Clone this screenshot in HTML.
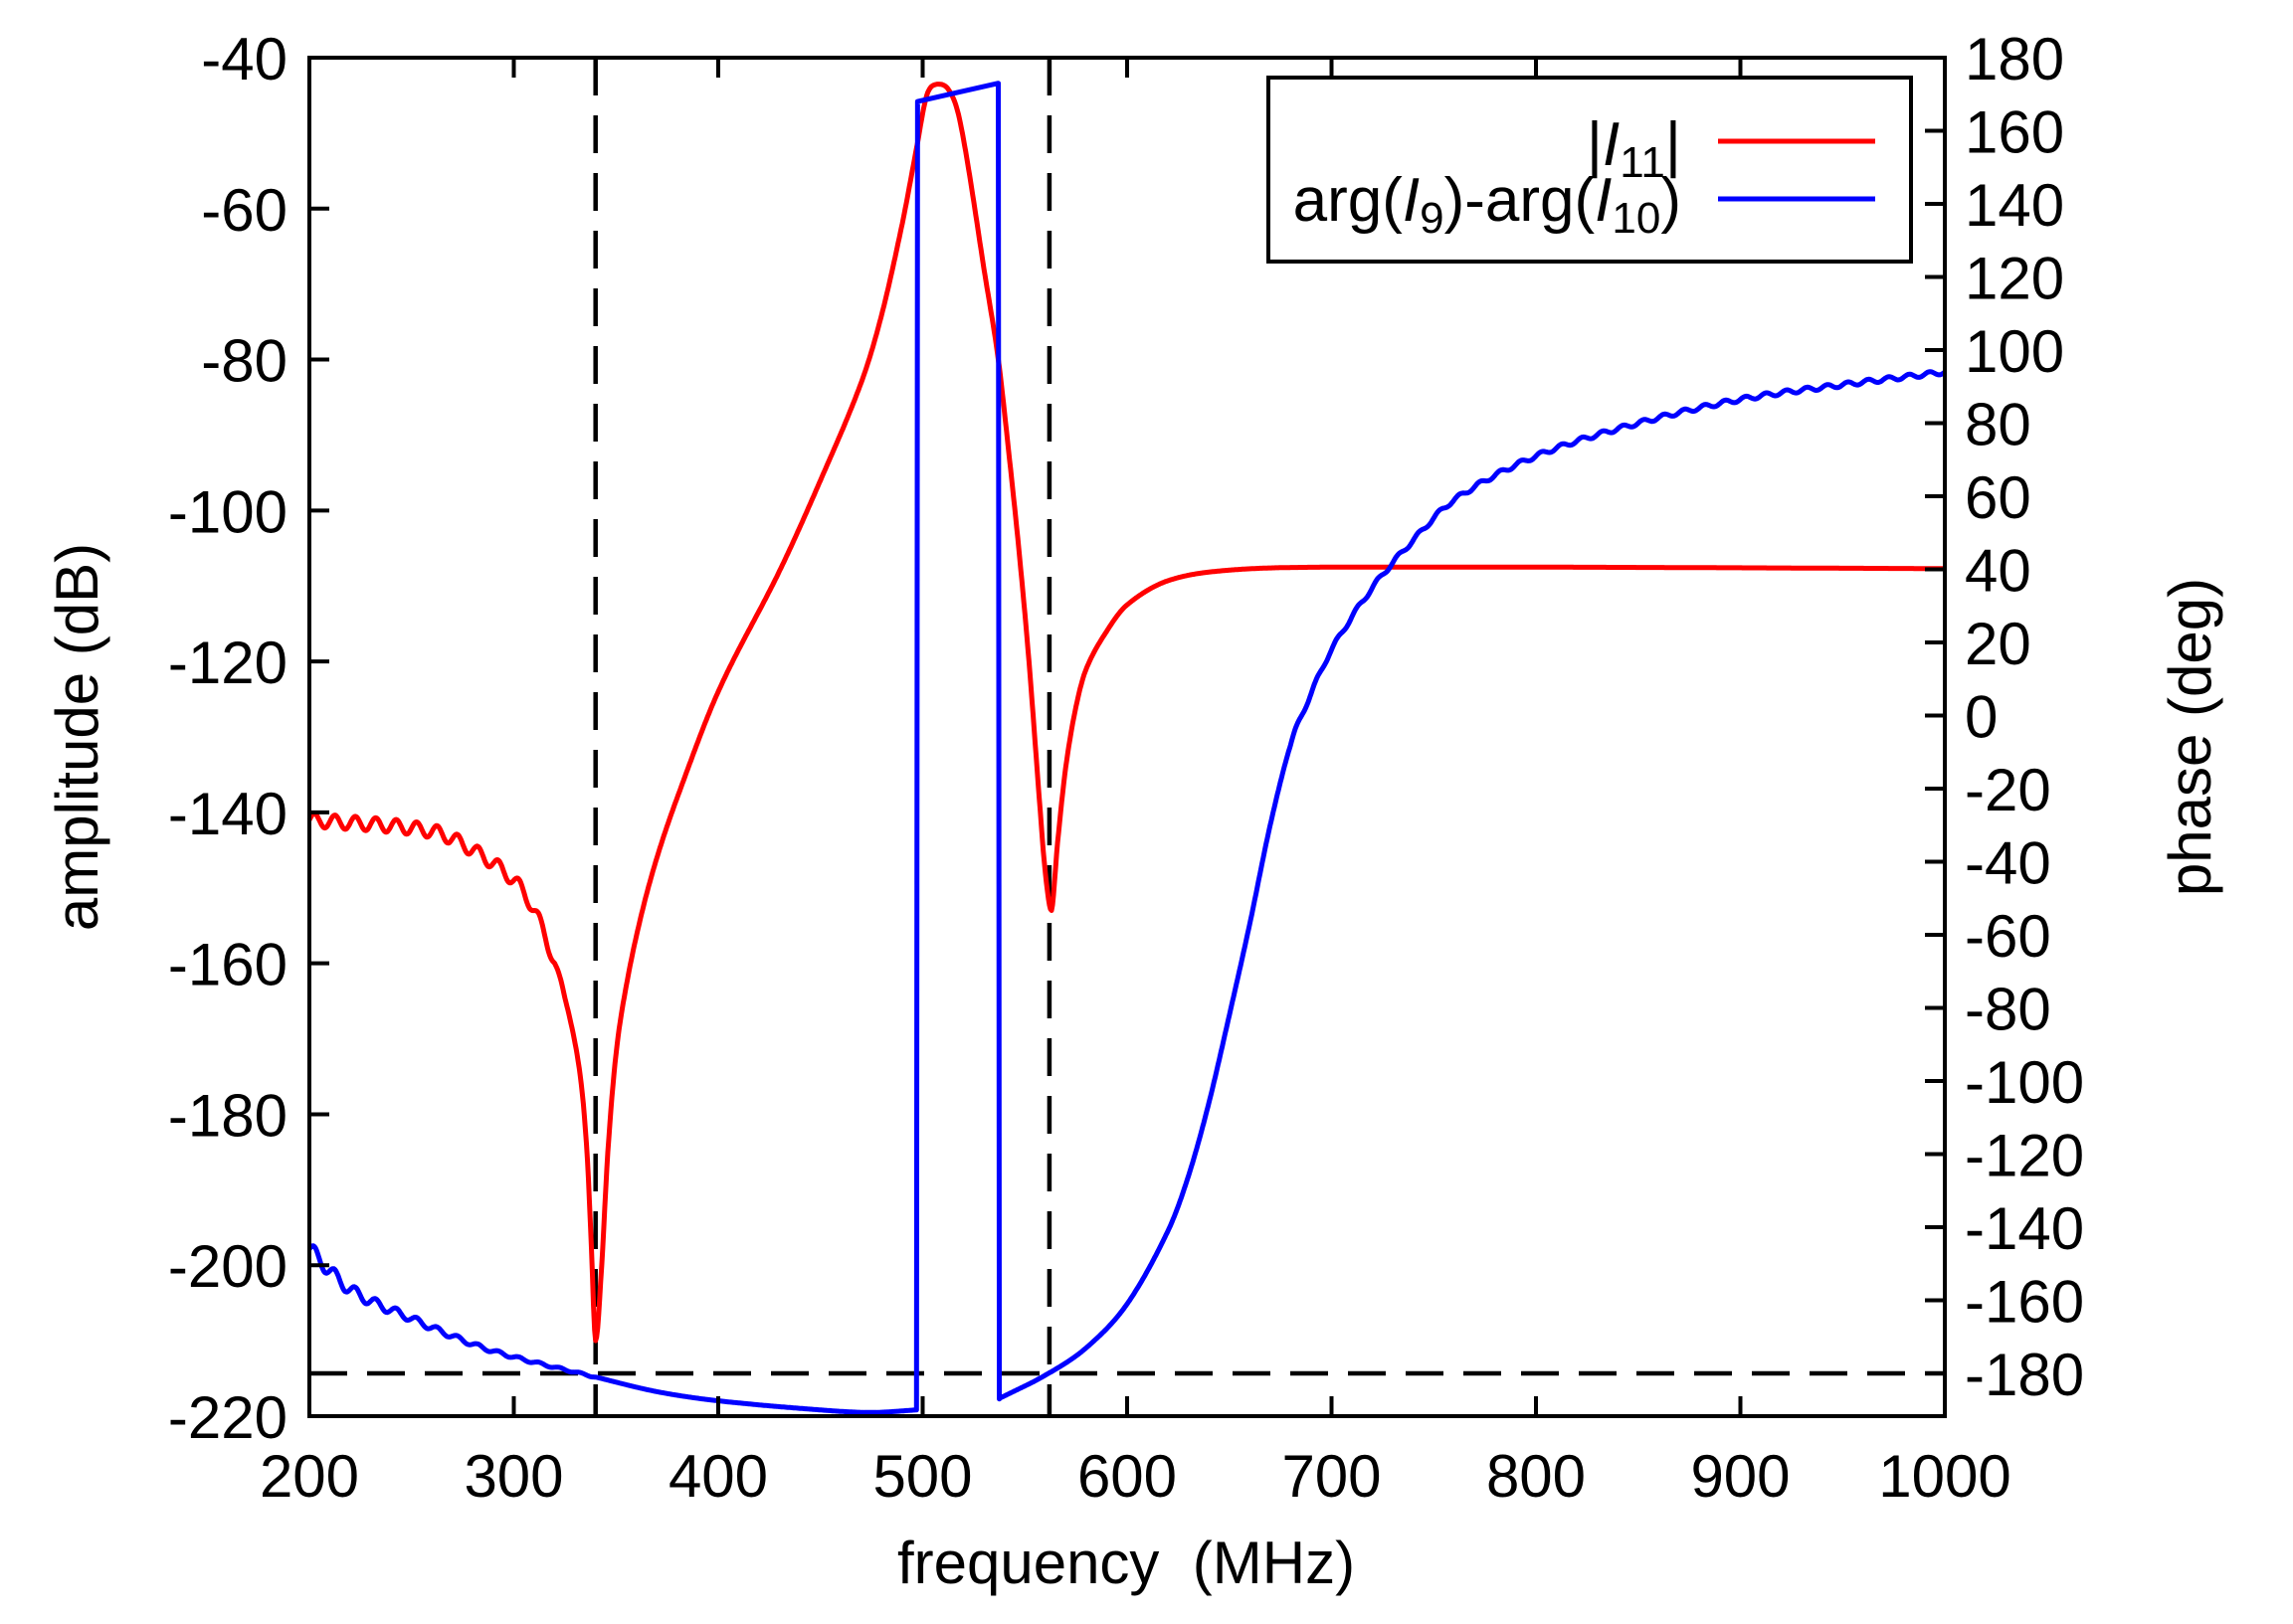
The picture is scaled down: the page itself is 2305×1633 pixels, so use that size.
<!DOCTYPE html>
<html><head><meta charset="utf-8">
<style>
html,body{margin:0;padding:0;background:#fff;}
svg{display:block;font-family:"Liberation Sans",sans-serif;}
</style></head>
<body>
<svg id="s" width="2305" height="1633" xmlns="http://www.w3.org/2000/svg">
<g id="g"></g>
</svg>
<script>
const L=311,R=1955,T=58,B=1424;
const fx=f=>L+(f-200)*(R-L)/800;
const ya=a=>T+(-40-a)*(B-T)/180;
const yp=p=>T+(180-p)*73.5/20;
let h='';
function interp(pts,f){
  const n=pts.length;
  for(let i=0;i<n-1;i++){
    if(f>=pts[i][0]&&f<=pts[i+1][0]){
      const x0=pts[i][0],x1=pts[i+1][0],y0=pts[i][1],y1=pts[i+1][1];
      const t=(f-x0)/(x1-x0),dx=x1-x0;
      const pm=pts[Math.max(i-1,0)],pp=pts[Math.min(i+2,n-1)];
      let m0=(y1-pm[1])/(x1-pm[0]), m1=(pp[1]-y0)/(pp[0]-x0);
      const s=(y1-y0)/dx;
      if(s*m0<=0)m0=0; if(s*m1<=0)m1=0;
      if(Math.abs(m0)>3*Math.abs(s))m0=3*s; if(Math.abs(m1)>3*Math.abs(s))m1=3*s;
      const t2=t*t,t3=t2*t;
      return (2*t3-3*t2+1)*y0+(t3-2*t2+t)*dx*m0+(-2*t3+3*t2)*y1+(t3-t2)*dx*m1;
    }
  }
  return pts[n-1][1];
}
const red=[[200,-141],[260,-142.5],[280,-145],[300,-149],[310,-153],[320,-160],[328,-168],[333,-176],[336,-186],[338,-198],[340,-210],[343,-200],[346,-185],[350,-172],[355,-163],[362,-154],[370,-146],[380,-138],[400,-124],[430,-108],[450,-96],[470,-83],[480,-74],[490,-62],[497,-52],[502,-45],[507,-43.5],[512,-44],[517,-47],[522,-54],[530,-68],[537,-80],[542,-92],[547,-105],[552,-120],[557,-138],[560,-148],[563,-153],[566,-144],[570,-134],[575,-126],[580,-121],[590,-116],[600,-112.5],[620,-109.3],[650,-107.9],[700,-107.5],[800,-107.5],[1000,-107.7]];
let p='';
for(let f=200;f<=1000;f+=0.5){let a=interp(red,f);if(f<325)a+=0.9*Math.sin((f-200)*2*Math.PI/10)*(f<320?1:0.5);p+=(p?'L':'M')+fx(f).toFixed(1)+' '+ya(a).toFixed(1);}
const blue1=[[200,-146],[220,-157],[250,-165],[280,-172],[300,-175.5],[340,-181],[370,-185],[400,-187.5],[450,-190],[475,-190.7],[497,-190]];
const blue2=[[537,-187],[560,-180.5],[580,-173],[600,-161],[620,-141],[630,-126],[640,-106],[650,-82],[660,-57],[670,-30],[680,-8],[690,6],[700,18],[720,35],[740,48],[760,59],[800,71],[850,80],[900,86.5],[950,90.5],[1000,94]];
let q='';
for(let f=200;f<=497;f+=0.5){let v=interp(blue1,f);if(f<340)v+=2.2*Math.exp(-(f-200)/60)*Math.sin((f-200)*2*Math.PI/10);q+=(q?'L':'M')+fx(f).toFixed(1)+' '+yp(v).toFixed(1);}
q+='L'+fx(497.5)+' '+yp(168)+'L'+fx(537)+' '+yp(173)+'L'+fx(537.5)+' '+yp(-187);
for(let f=538;f<=1000;f+=0.5){let v=interp(blue2,f);if(f>680)v+=0.6*Math.sin(f*2*Math.PI/10);q+='L'+fx(f).toFixed(1)+' '+yp(v).toFixed(1);}
const dash='stroke="#000" stroke-width="4.5" stroke-dasharray="38,20" fill="none"';
h+=`<line x1="${fx(340)}" y1="${T}" x2="${fx(340)}" y2="${B}" ${dash}/>`;
h+=`<line x1="${fx(562)}" y1="${T}" x2="${fx(562)}" y2="${B}" ${dash}/>`;
h+=`<line x1="${L}" y1="${yp(-180)}" x2="${R}" y2="${yp(-180)}" ${dash}/>`;
h+=`<path d="${p}" stroke="#f00" stroke-width="5" fill="none" stroke-linejoin="round"/>`;
h+=`<path d="${q}" stroke="#00f" stroke-width="5" fill="none" stroke-linejoin="round"/>`;
let t='';
for(let f=200;f<=1000;f+=100){const x=fx(f);t+=`M${x} ${B}V${B-20}M${x} ${T}V${T+20}`;h+=`<text x="${x}" y="1505" font-size="60" text-anchor="middle">${f}</text>`;}
for(let a=-220;a<=-40;a+=20){const y=ya(a);t+=`M${L} ${y}H${L+20}`;h+=`<text x="${L-22}" y="${y+22}" font-size="60" text-anchor="end">${a}</text>`;}
for(let ph=-180;ph<=180;ph+=20){const y=yp(ph);t+=`M${R} ${y}H${R-20}`;h+=`<text x="${R+20}" y="${y+22}" font-size="60">${ph}</text>`;}
h+=`<path d="${t}" stroke="#000" stroke-width="4"/>`;
h+=`<rect x="${L}" y="${T}" width="${R-L}" height="${B-T}" fill="none" stroke="#000" stroke-width="4"/>`;
h+=`<rect x="1275" y="78" width="646" height="185" fill="#fff" stroke="#000" stroke-width="4"/>`;
h+=`<line x1="1727" y1="142" x2="1885" y2="142" stroke="#f00" stroke-width="5"/>`;
h+=`<line x1="1727" y1="200" x2="1885" y2="200" stroke="#00f" stroke-width="5"/>`;
h+=`<text x="1690" y="166" font-size="62" text-anchor="end">|<tspan font-style="italic">I</tspan><tspan font-size="44" dy="12">11</tspan><tspan dy="-12">|</tspan></text>`;
h+=`<text x="1690" y="222" font-size="62" text-anchor="end">arg(<tspan font-style="italic">I</tspan><tspan font-size="44" dy="12">9</tspan><tspan dy="-12">)-arg(</tspan><tspan font-style="italic">I</tspan><tspan font-size="44" dy="12">10</tspan><tspan dy="-12">)</tspan></text>`;
h+=`<text x="1132" y="1592" font-size="60" text-anchor="middle">frequency&#160; (MHz)</text>`;
h+=`<text transform="translate(98,741) rotate(-90)" font-size="60" text-anchor="middle">amplitude (dB)</text>`;
h+=`<text transform="translate(2222,741) rotate(-90)" font-size="60" text-anchor="middle">phase (deg)</text>`;
document.getElementById('g').innerHTML=h;
</script>
</body></html>
